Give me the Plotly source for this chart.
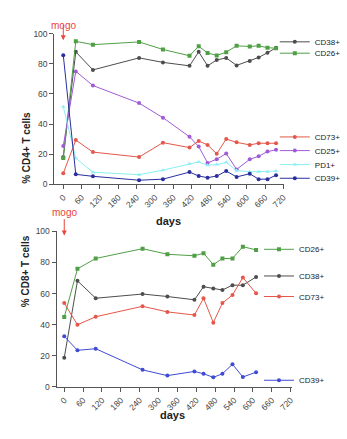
import plotly.graph_objects as go

# ---------------- data ----------------
days_cd4 = [0, 41, 97, 248, 326, 413, 443, 472, 502, 533, 567, 610, 639, 668, 696]
cd4_cd38 = [18, 88, 76, 84, 81, 78.7, 88, 78.7, 82.6, 84, 79, 82, 84.3, 87.4, 90.7]
cd4_cd26 = [17.4, 95, 92.8, 94.6, 89.6, 85.4, 91.7, 87.3, 85.6, 87.8, 92, 91.6, 92, 90.8, 90.4]
cd4_cd73 = [7.2, 29.3, 21.3, 18, 27.6, 24.3, 28.7, 26.1, 20.2, 30, 27.8, 26.1, 27.2, 27.2, 27.2]
cd4_cd25 = [25.4, 75, 65.6, 53.9, 44.2, 31.5, 25, 14.1, 16.6, 20.4, 9.8, 16.5, 18.5, 21.7, 22.8]
cd4_pd1 = [51.5, 17.2, 7.9, 6.3, 9.3, 13.5, 14.8, 12.6, 13, 14.5, 9.1, 8.2, 8.2, 8.2, 8.7]
cd4_cd39 = [85.8, 6.5, 5.2, 2.6, 3.3, 8, 5.4, 4.3, 5.4, 8.7, 4.8, 6.9, 3.3, 3.3, 5.9]

days_cd8 = [0, 42, 100, 249, 328, 414, 443, 474, 503, 535, 568, 610]
cd8_cd26 = [44.9, 75.9, 82.6, 88.9, 85.3, 84.3, 86, 78.6, 82.6, 82.6, 90.2, 88.1]
cd8_cd38 = [18.7, 68.2, 57, 59.7, 58.1, 56, 64.4, 63.3, 62.3, 65.4, 65.4, 70.7]
cd8_cd73 = [53.9, 39.9, 45.1, 51.8, 48.2, 46.2, 57, 41.3, 53.9, 59.1, 70.3, 60.2]
cd8_cd39 = [32.5, 23.5, 24.5, 10.9, 7.2, 9.9, 8.4, 6.1, 8.4, 14.5, 6.3, 9.4]

x_ticks = list(range(0, 721, 60))
y_ticks = [0, 20, 40, 60, 80, 100]

W, H = 347, 439
FONT = "Liberation Sans, Arial, sans-serif"

GREEN = "#4f9f45"
GRAY = "#4d4d4d"
RED = "#e4574a"
PURPLE = "#a05ad8"
CYAN = "#8af0f5"
NAVY = "#2b2f9e"
BLUE = "#3f4bd1"
MOGO = "#e8453c"

fig = go.Figure()

top_series = [
    ("CD38+", cd4_cd38, GRAY, "circle", "legend", 37.7),
    ("CD26+", cd4_cd26, GREEN, "square", "legend2", 49.3),
    ("CD73+", cd4_cd73, RED, "circle", "legend3", 135),
    ("CD25+", cd4_cd25, PURPLE, "circle", "legend4", 149),
    ("PD1+", cd4_pd1, CYAN, "triangle-up", "legend5", 163.3),
    ("CD39+", cd4_cd39, NAVY, "circle", "legend6", 177.3),
]
bot_series = [
    ("CD26+", cd8_cd26, GREEN, "square", "legend7", 250),
    ("CD38+", cd8_cd38, GRAY, "circle", "legend8", 277.3),
    ("CD73+", cd8_cd73, RED, "circle", "legend9", 298.3),
    ("CD39+", cd8_cd39, BLUE, "circle", "legend10", 384),
]

legend_layouts = {}
for name, vals, col, sym, lg, ypx in top_series:
    fig.add_trace(go.Scatter(
        x=days_cd4, y=vals, name=name, mode="lines+markers",
        line=dict(color=col, width=1), marker=dict(color=col, size=4, symbol=sym),
        xaxis="x", yaxis="y", legend=lg, showlegend=True))
    legend_layouts[lg] = (278, ypx)
for name, vals, col, sym, lg, ypx in bot_series:
    fig.add_trace(go.Scatter(
        x=days_cd8, y=vals, name=name, mode="lines+markers",
        line=dict(color=col, width=1), marker=dict(color=col, size=4, symbol=sym),
        xaxis="x2", yaxis="y2", legend=lg, showlegend=True))
    legend_layouts[lg] = (262, ypx)

layout_legends = {}
for lg, (xpx, ypx) in legend_layouts.items():
    layout_legends[lg] = dict(
        x=xpx / W, y=1 - ypx / H, xanchor="left", yanchor="middle",
        xref="paper", yref="paper",
        bgcolor="rgba(0,0,0,0)", borderwidth=0, itemwidth=30,
        font=dict(family=FONT, size=8, color="#222"),
        tracegroupgap=0, itemclick=False, itemdoubleclick=False,
    )

axis_common = dict(
    showgrid=False, zeroline=False, showline=True, linecolor="#555", linewidth=1.2,
    ticks="outside", ticklen=4, tickwidth=1, tickcolor="#555",
    tickfont=dict(family=FONT, size=8.5, color="#444"),
)

fig.update_layout(
    width=W, height=H,
    margin=dict(l=0, r=0, t=0, b=0),
    paper_bgcolor="white", plot_bgcolor="white",
    font=dict(family=FONT),
    xaxis=dict(domain=[55 / W, 287 / W], range=[-29.1, 721], anchor="y",
               tickvals=x_ticks, tickangle=-45, **axis_common),
    yaxis=dict(domain=[1 - 183.3 / H, 1 - 29.5 / H], range=[0, 100], anchor="x",
               tickvals=y_ticks, **axis_common),
    xaxis2=dict(domain=[57.3 / W, 295 / W], range=[-24.2, 723], anchor="y2",
                tickvals=x_ticks, tickangle=-45, **axis_common),
    yaxis2=dict(domain=[1 - 390.7 / H, 1 - 231.7 / H], range=[0, 100], anchor="x2",
                tickvals=y_ticks, **axis_common),
    **layout_legends,
)

annots = [
    # axis titles
    dict(text="<b>days</b>", x=170 / W, y=1 - 221 / H, xref="paper", yref="paper",
         showarrow=False, font=dict(family=FONT, size=11, color="#222")),
    dict(text="<b>days</b>", x=175 / W, y=1 - 428 / H, xref="paper", yref="paper",
         showarrow=False, font=dict(family=FONT, size=11, color="#222")),
    dict(text="<b>% CD4+ T cells</b>", x=19 / W, y=1 - 107 / H, xref="paper", yref="paper",
         showarrow=False, textangle=-90, font=dict(family=FONT, size=10, color="#222")),
    dict(text="<b>% CD8+ T cells</b>", x=19 / W, y=1 - 311 / H, xref="paper", yref="paper",
         showarrow=False, textangle=-90, font=dict(family=FONT, size=10, color="#222")),
    # mogo labels
    dict(text="mogo", x=0, xref="x", y=1 - 13 / H, yref="paper", showarrow=False,
         font=dict(family=FONT, size=10, color=MOGO)),
    dict(text="", x=0, xref="x", y=1 - 36 / H, yref="paper", showarrow=True,
         ax=0, ay=-17, arrowhead=2, arrowsize=1, arrowwidth=1, arrowcolor=MOGO),
    dict(text="mogo", x=0, xref="x2", y=1 - 212.5 / H, yref="paper", showarrow=False,
         font=dict(family=FONT, size=10, color=MOGO)),
    dict(text="", x=0, xref="x2", y=1 - 236 / H, yref="paper", showarrow=True,
         ax=0, ay=-18, arrowhead=2, arrowsize=1, arrowwidth=1, arrowcolor=MOGO),
]
fig.update_layout(annotations=annots)

fig.write_html("out.html")
